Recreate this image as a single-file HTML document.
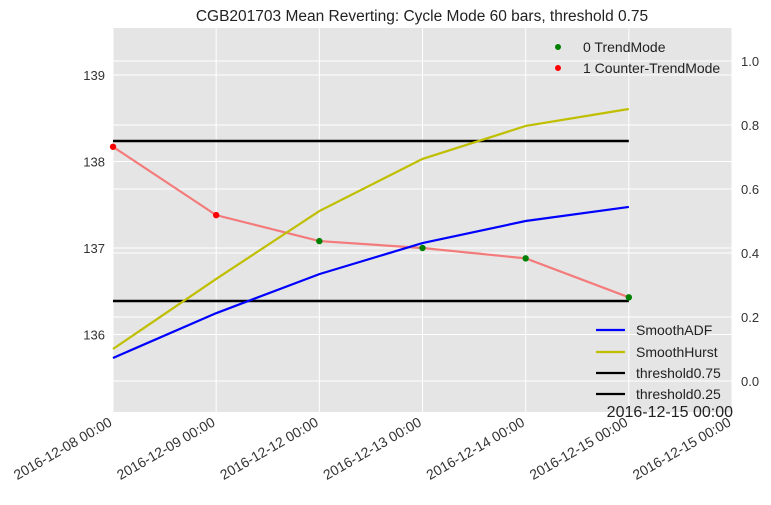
<!DOCTYPE html>
<html><head><meta charset="utf-8"><style>
body{margin:0;background:#fff;}
svg{font-family:"Liberation Sans",sans-serif;}
</style></head><body>
<svg id="c" width="771" height="500"></svg>
<script>
const categories=["2016-12-08 00:00","2016-12-09 00:00","2016-12-12 00:00","2016-12-13 00:00","2016-12-14 00:00","2016-12-15 00:00"];
const extraTick="2016-12-15 00:00";
const price=[138.17,137.38,137.08,137.0,136.88,136.43];
const mode=[1,1,0,0,0,0];
const smoothADF=[0.072,0.212,0.334,0.431,0.5,0.544];
const smoothHurst=[0.1,0.319,0.531,0.694,0.797,0.85];
const thresholdHigh=0.75, thresholdLow=0.25;
const leftTicks=[136,137,138,139];
const rightTicks=[0.0,0.2,0.4,0.6,0.8,1.0];

const NS="http://www.w3.org/2000/svg";
const svg=document.getElementById('c');
function el(t,a,p){const e=document.createElementNS(NS,t);for(const k in a)e.setAttribute(k,a[k]);(p||svg).appendChild(e);return e;}
const L=113,R=732,T=28,B=412,step=(R-L)/6;
const xs=i=>L+i*step;
const yl=v=>248-(v-137)*86.5;
const yr=v=>381-v*320;

const bg=el('rect',{x:L,y:T,width:R-L,height:B-T,fill:'#e5e5e5'});


for(let i=0;i<=6;i++){const g=el('line',{x1:xs(i),x2:xs(i),y1:T,y2:B,stroke:'#fff','stroke-width':1});

}
leftTicks.forEach(v=>{const y=yl(v);const g=el('line',{x1:L,x2:R,y1:y,y2:y,stroke:'#fff'});


const t=el('text',{x:L-8,y:y+5,'text-anchor':'end','font-size':13,fill:'#333'});t.textContent=v;

});
rightTicks.forEach(v=>{const y=yr(v);const g=el('line',{x1:L,x2:R,y1:y,y2:y,stroke:'#fff'});


const t=el('text',{x:741,y:y+5,'font-size':13,fill:'#333'});t.textContent=v.toFixed(1);

});
const pl=el('polyline',{points:price.map((v,i)=>xs(i)+','+yl(v)).join(' '),fill:'none',stroke:'#f47b7b','stroke-width':2.2});


[thresholdHigh,thresholdLow].forEach(v=>{const l=el('line',{x1:L,x2:xs(5),y1:yr(v),y2:yr(v),stroke:'#000','stroke-width':2.5});

});
const al=el('polyline',{points:smoothADF.map((v,i)=>xs(i)+','+yr(v)).join(' '),fill:'none',stroke:'#0000ff','stroke-width':2.2});


const hl=el('polyline',{points:smoothHurst.map((v,i)=>xs(i)+','+yr(v)).join(' '),fill:'none',stroke:'#bfbf00','stroke-width':2.2});


price.forEach((v,i)=>{const c=el('circle',{cx:xs(i),cy:yl(v),r:3.2,fill:mode[i]?'#ff0000':'#008000'});

});
categories.concat([extraTick]).forEach((s,i)=>{const x=xs(i),y=B+13;
const t=el('text',{x:x,y:y,'text-anchor':'end','font-size':14,fill:'#333',transform:`rotate(-30 ${x} ${y})`});t.textContent=s;

});
const off=el('text',{x:733,y:417,'text-anchor':'end','font-size':16,fill:'#222'});off.textContent=extraTick;


const ti=el('text',{x:422,y:21,'text-anchor':'middle','font-size':15.5,fill:'#222'});ti.textContent='CGB201703 Mean Reverting: Cycle Mode 60 bars, threshold 0.75';


[['0 TrendMode','#008000',47],['1 Counter-TrendMode','#ff0000',68]].forEach(d=>{
const c=el('circle',{cx:558,cy:d[2],r:3,fill:d[1]});


const t=el('text',{x:583,y:d[2]+5,'font-size':14,fill:'#222'});t.textContent=d[0];

});
[['SmoothADF','#0000ff',330],['SmoothHurst','#bfbf00',352],['threshold0.75','#000',373],['threshold0.25','#000',394]].forEach(d=>{
const l=el('line',{x1:596,x2:625,y1:d[2],y2:d[2],stroke:d[1],'stroke-width':2.2});


const t=el('text',{x:636,y:d[2]+5,'font-size':14,fill:'#222'});t.textContent=d[0];

});
</script>
</body></html>
